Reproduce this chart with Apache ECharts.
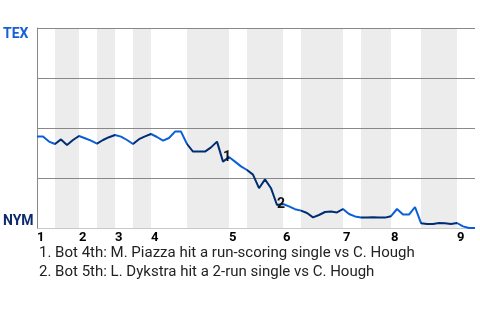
<!DOCTYPE html>
<html>
<head>
<meta charset="utf-8">
<style>html,body{margin:0;padding:0;background:#fff}#c{width:480px;height:320px}</style>
<script src="https://cdn.jsdelivr.net/npm/echarts@6/dist/echarts.min.js"></script>
</head>
<body>
<div id="c"></div>
<script>
// TEX win probability (%) after each plate appearance
var texWinProb = [45.7,45.7,43.2,42,44.3,41.5,44,46,44.9,43.7,42.2,44,45.4,46.5,45.7,44,42,44.4,45.8,47,45.5,43.7,45,48.2,48.2,42,38.2,38.2,38.2,40.3,43.2,33.2,35.5,33.2,30.8,29,26.7,19.9,24.3,19.9,11.5,12,10.8,9.4,8.7,7.5,5.3,6.5,8,8.2,7.8,9.5,7,5.8,5.2,5.2,5.4,5.2,5.2,5.9,9.5,6.7,6.7,10.5,2.4,2,2,2.5,2.4,2,2.5,0.8,0,0];
var inningStarts = [0,7,13,19,32,41,51,59,70];
var inningLabels = ['1','2','3','4','5','6','7','8','9'];
var bottomHalves = [[3,7],[10,13],[16,19],[25,32],[35,41],[44,51],[54,59],[64,70]];
var annotIdx = [31,40];
var annotMarks = ['1','2'];
var annotTexts = ['1. Bot 4th: M. Piazza hit a run-scoring single vs C. Hough','2. Bot 5th: L. Dykstra hit a 2-run single vs C. Hough'];
var teamTop = 'TEX', teamBottom = 'NYM';

var BLUE = '#0a5fd8', NAVY = '#002d72';
var FONT = 'Roboto';

var lineData = texWinProb.map(function(v,i){return [i,v];});
var pieces = bottomHalves.map(function(b){return {gte:b[0], lt:b[1], color:NAVY};});

var chart = echarts.init(document.getElementById('c'), null, {renderer:'canvas'});
chart.setOption({
  animation:false,
  grid:{left:37,right:5,top:28,bottom:92},
  xAxis:{type:'value',min:0,max:texWinProb.length-1,z:4,
    axisLine:{show:false},axisTick:{show:false},splitLine:{show:false},
    axisLabel:{customValues:inningStarts,align:'left',margin:3,
      fontFamily:FONT,fontWeight:'bold',fontSize:13,color:'#000',
      formatter:function(v){var k=inningStarts.indexOf(v);return k>=0?inningLabels[k]:'';}}},
  yAxis:{type:'value',min:0,max:100,interval:25,z:4,
    axisLine:{show:true,lineStyle:{color:'#888',width:1}},axisTick:{show:false},
    splitLine:{show:true,lineStyle:{color:['#c8c8c8','#888','#888','#888','#888'],width:1}},
    axisLabel:{align:'left',margin:34,verticalAlign:'middle',
      formatter:function(v){return v===100?'{t|'+teamTop+'}':(v===0?'{n|'+teamBottom+'}':'');},
      rich:{t:{color:'#1660d4',fontWeight:'bold',fontSize:14,fontFamily:FONT,padding:[13,0,0,0]},
            n:{color:'#0e2a6b',fontWeight:'bold',fontSize:14,fontFamily:FONT,padding:[0,0,13,0]}}}},
  visualMap:{show:false,type:'piecewise',dimension:0,seriesIndex:1,pieces:pieces,outOfRange:{color:BLUE}},
  series:[
    {type:'line',data:[],z:0,silent:true,
      markArea:{silent:true,z:0,itemStyle:{color:'#ececec'},
        data:bottomHalves.map(function(b){return [{xAxis:b[0]},{xAxis:b[1]}];})}},
    {type:'line',data:lineData,z:5,showSymbol:false,symbol:'none',lineStyle:{width:2},
      markPoint:{silent:true,z:6,symbol:'circle',symbolSize:1,itemStyle:{color:'rgba(0,0,0,0)'},
        label:{show:true,position:'inside',fontFamily:FONT,fontWeight:'bold',fontSize:14,color:'#111',
          formatter:function(p){return p.name;}},
        data:annotIdx.map(function(i,k){return {name:annotMarks[k],coord:[i,texWinProb[i]],label:{offset:k===0?[4,-4]:[4,-1]}};})}}
  ],
  graphic:[{type:'text',left:39,top:244,style:{text:annotTexts.join('\n'),font:'15px Roboto',lineHeight:19,fill:'#222'}}]
});
</script>
</body>
</html>
